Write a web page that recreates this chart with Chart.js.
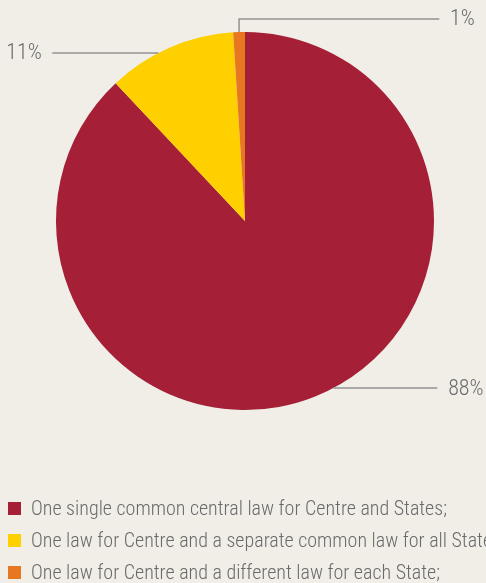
<!DOCTYPE html>
<html>
<head>
<meta charset="utf-8">
<script src="https://cdn.jsdelivr.net/npm/chart.js@4/dist/chart.umd.min.js"></script>
<style>
  html, body { margin: 0; padding: 0; background: #f1eee8; overflow: hidden; }
  #wrap { position: relative; width: 486px; height: 583px; }
  #chart { position: absolute; left: 0; top: 0; }
  #legend { position: absolute; left: 0; top: 492px; width: 486px; overflow: hidden; white-space: nowrap;
            font-family: "Roboto Condensed", "Liberation Sans Narrow", "DejaVu Sans Condensed", sans-serif;
            font-weight: 300; font-size: 20px; color: #6a6a6a; }
  .row { height: 32px; display: flex; align-items: center; }
  .sw { width: 13px; height: 13px; margin-left: 8px; margin-right: 10px; flex: none; }
</style>
</head>
<body>
<div id="wrap">
  <canvas id="chart" width="486" height="583"></canvas>
  <div id="legend"></div>
</div>
<script>
const categories = [
  "One single common central law for Centre and States;",
  "One law for Centre and a separate common law for all States;",
  "One law for Centre and a different law for each State;"
];
const shares = [88, 11, 1];
const sliceLabels = ["88%", "11%", "1%"];
const colors = ["#a51f37", "#ffd000", "#e87722"];

const FONT = '"Roboto Condensed", "Liberation Sans Narrow", "DejaVu Sans Condensed", sans-serif';

// Leader lines with percentage labels next to each slice
const leaderPlugin = {
  id: 'leaders',
  afterDatasetsDraw(chart) {
    const ctx = chart.ctx;
    const arcs = chart.getDatasetMeta(0).data;
    ctx.save();
    ctx.strokeStyle = '#929292';
    ctx.lineWidth = 1.5;
    ctx.fillStyle = '#6a6a6a';
    ctx.font = '300 22px ' + FONT;
    ctx.textBaseline = 'middle';
    arcs.forEach((arc, i) => {
      const { x, y, outerRadius: r, startAngle, endAngle } = arc.getProps(['x', 'y', 'outerRadius', 'startAngle', 'endAngle'], true);
      const mid = (startAngle + endAngle) / 2;
      if (i === 0) {
        // right side, lower half
        const ly = y + r * 0.884;
        const ex = x + Math.sqrt(r * r - (ly - y) * (ly - y));
        ctx.beginPath(); ctx.moveTo(ex, ly); ctx.lineTo(x + r * 1.018, ly); ctx.stroke();
        ctx.textAlign = 'left';
        ctx.fillText(sliceLabels[i], x + r * 1.075, ly + 1);
      } else if (i === 1) {
        // left side, upper half
        const ly = y - r * 0.889;
        const ex = x - Math.sqrt(r * r - (ly - y) * (ly - y));
        ctx.beginPath(); ctx.moveTo(ex, ly); ctx.lineTo(x - r * 1.02, ly); ctx.stroke();
        ctx.textAlign = 'right';
        ctx.fillText(sliceLabels[i], x - r * 1.075, ly + 1);
      } else {
        // up from the slice, then to the right
        const px = x + r * Math.cos(mid);
        const py = y + r * Math.sin(mid);
        const ty = y - r * 1.069;
        ctx.beginPath(); ctx.moveTo(px, py); ctx.lineTo(px, ty); ctx.lineTo(x + r * 1.028, ty); ctx.stroke();
        ctx.textAlign = 'left';
        ctx.fillText(sliceLabels[i], x + r * 1.085, ty + 1);
      }
    });
    ctx.restore();
  }
};

new Chart(document.getElementById('chart'), {
  type: 'pie',
  data: {
    labels: categories,
    datasets: [{ data: shares, backgroundColor: colors, borderWidth: 0 }]
  },
  options: {
    responsive: false,
    animation: false,
    layout: { padding: { top: 32, bottom: 173, left: 56, right: 52 } },
    plugins: { legend: { display: false }, tooltip: { enabled: false } }
  },
  plugins: [leaderPlugin]
});

// Legend rows
const legend = document.getElementById('legend');
categories.forEach((c, i) => {
  const row = document.createElement('div');
  row.className = 'row';
  const sw = document.createElement('span');
  sw.className = 'sw';
  sw.style.background = colors[i];
  const t = document.createElement('span');
  t.textContent = c;
  row.appendChild(sw); row.appendChild(t);
  legend.appendChild(row);
});
</script>
</body>
</html>
